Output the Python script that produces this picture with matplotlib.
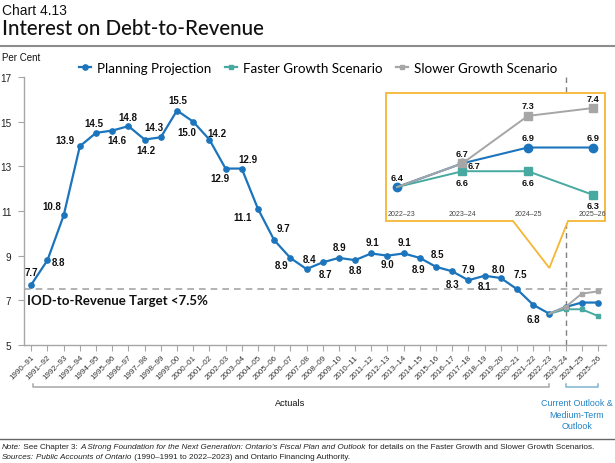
import matplotlib
matplotlib.use("Agg")
from matplotlib import pyplot as plt
from matplotlib.patches import Polygon
from matplotlib.lines import Line2D
from matplotlib.transforms import blended_transform_factory
import numpy as np

# ---- data ----
years = ['1990–91', '1991–92', '1992–93', '1993–94', '1994–95', '1995–96',
         '1996–97', '1997–98', '1998–99', '1999–00', '2000–01', '2001–02',
         '2002–03', '2003–04', '2004–05', '2005–06', '2006–07', '2007–08',
         '2008–09', '2009–10', '2010–11', '2011–12', '2012–13', '2013–14',
         '2014–15', '2015–16', '2016–17', '2017–18', '2018–19', '2019–20',
         '2020–21', '2021–22', '2022–23', '2023–24', '2024–25', '2025–26']
planning = [7.7, 8.8, 10.8, 13.9, 14.5, 14.6, 14.8, 14.2, 14.3, 15.5, 15.0, 14.2,
            12.9, 12.9, 11.1, 9.7, 8.9, 8.4, 8.7, 8.9, 8.8, 9.1, 9.0, 9.1,
            8.9, 8.5, 8.3, 7.9, 8.1, 8.0, 7.5, 6.8, 6.4, 6.7, 6.9, 6.9]
proj_years = ['2022–23', '2023–24', '2024–25', '2025–26']
faster = [6.4, 6.6, 6.6, 6.3]
slower = [6.4, 6.7, 7.3, 7.4]
target = 7.5

# label offsets (pixels) for the planning labels in the main chart
label_off = [(0, 13), (11, -2), (-12, 9), (-15, 6), (-2, 10), (5, -9), (-1, 9),
             (1, -10), (-7, 10), (1, 10), (-6, -10), (8, 7), (-6, -9), (6, 10),
             (-15, -8), (9, 12), (-9, -7), (3, 10), (3, -12), (1, 11), (0, -10),
             (1, 11), (0, -8), (1, 11), (-1, -11), (1, 13), (0, -13), (0, 11),
             (0, -10), (-2, 9), (3, 15), (0, -14)]

BLUE = '#1C75BC'
TEAL = '#48A9A0'
GREY = '#A6A6A6'
GOLD = '#F5B634'
SANS = ['Liberation Sans', 'DejaVu Sans']
HEAD = ['Lato', 'DejaVu Sans']

W, H = 615, 464
fig = plt.figure(figsize=(W / 100, H / 100), dpi=100)


def box(l, t, r, b):
    return [l / W, 1 - b / H, (r - l) / W, (b - t) / H]


# ---- main axes ----
ax = fig.add_axes(box(24, 78, 606, 346))
ax.set_zorder(0)
x = np.arange(len(years))
px = np.arange(len(years) - 4, len(years))

ax.axhline(target, color=GREY, lw=1.2, ls=(0, (4, 3)), zorder=1)
ax.axvline(px[1], color='#808080', lw=1.0, ls=(0, (4, 3)), zorder=1)
ax.plot(x, planning, color=BLUE, lw=1.6, marker='o', ms=3.8, zorder=3)
ax.plot(px, faster, color=TEAL, lw=1.4, marker='s', ms=3.5, markevery=[1, 2, 3], zorder=4)
ax.plot(px, slower, color=GREY, lw=1.4, marker='s', ms=3.5, markevery=[1, 2, 3], zorder=5)

for i, (dx, dy) in enumerate(label_off):
    ax.annotate(f'{planning[i]:.1f}', (x[i], planning[i]), xytext=(dx, dy),
                textcoords='offset pixels', ha='center', va='center',
                fontsize=7, fontweight='bold', family=SANS, color='#111111')

ax.text(0.005, 7.0, 'IOD-to-Revenue Target <7.5%',
        transform=blended_transform_factory(ax.transAxes, ax.transData),
        fontsize=9.5, fontweight='bold', family=HEAD, va='center', ha='left', color='#111111')

ax.set_xlim(-0.45, 35.5)
ax.set_ylim(5, 17)
ax.set_yticks(range(5, 18, 2))
ax.set_xticks(x)
ax.set_xticklabels(years, rotation=45, ha='right', rotation_mode='anchor',
                   fontsize=5.8, family=SANS, color='#333333')
ax.tick_params(axis='x', length=4, color=GREY, pad=2)
ax.tick_params(axis='y', length=4, color=GREY, labelsize=7.2, labelcolor='#222222', pad=5)
for lbl in ax.get_yticklabels():
    lbl.set_family(SANS)
for s in ['top', 'right']:
    ax.spines[s].set_visible(False)
for s in ['left', 'bottom']:
    ax.spines[s].set_color(GREY)
    ax.spines[s].set_linewidth(1.0)

# brackets under the axis
bt = blended_transform_factory(ax.transData, ax.transAxes)
ax.plot([0.1, 0.1, 32, 32], [-0.146, -0.157, -0.157, -0.146], color=GREY, lw=1.1,
        transform=bt, clip_on=False)
ax.plot([33, 33, 35, 35], [-0.146, -0.157, -0.157, -0.146], color='#7FB3CF', lw=1.1,
        transform=bt, clip_on=False)
ax.text(16, -0.213, 'Actuals', transform=bt, ha='center', va='center',
        fontsize=6.6, family=SANS, color='#111111')
ax.text(33.7, -0.258, 'Current Outlook &\nMedium-Term\nOutlook', transform=bt,
        ha='center', va='center', fontsize=6.4, family=SANS, color='#2383C4',
        linespacing=1.35)

# ---- inset with callout ----
il, it, ir, ib = 386, 94, 605, 222
fig.canvas.draw()
apex = ax.transData.transform((px[0], 8.45))
pts_px = [(il, it), (ir, it), (ir, ib), (568, ib), (apex[0], H - apex[1]),
          (513, ib), (il, ib)]
poly = Polygon([(p / W, 1 - q / H) for p, q in pts_px], closed=True,
               transform=fig.transFigure, facecolor='white', edgecolor=GOLD,
               lw=1.3, zorder=1)
fig.add_artist(poly)

ins = fig.add_axes(box(il, it, ir, ib))
ins.set_zorder(2)
ins.patch.set_alpha(0)
ix = np.arange(4)
ins.plot(ix, planning[-4:], color=BLUE, lw=1.5, marker='o', ms=6, zorder=3)
ins.plot(ix, faster, color=TEAL, lw=1.4, marker='s', ms=5.5, markevery=[1, 2, 3], zorder=4)
ins.plot(ix, slower, color=GREY, lw=1.4, marker='s', ms=5.5, markevery=[1, 2, 3], zorder=5)
ins.set_xlim(-0.17, 3.18)
ins.set_ylim(5.97, 7.59)
ins.axis('off')

inset_labels = [
    (0, planning[-4], 0, 10), (1, slower[1], 0, 10), (1, planning[-3], 12, -2),
    (1, faster[1], 0, -11), (2, slower[2], 0, 10), (2, planning[-2], 0, 10),
    (2, faster[2], 0, -11), (3, slower[3], 0, 10), (3, planning[-1], 0, 10),
    (3, faster[3], 0, -11),
]
for i, v, dx, dy in inset_labels:
    ins.annotate(f'{v:.1f}', (ix[i], v), xytext=(dx, dy), textcoords='offset pixels',
                 ha='center', va='center', fontsize=6.6, fontweight='bold',
                 family=SANS, color='#111111')
for i, yl in enumerate(proj_years):
    xo = ix[i]
    if i == 0:
        xo = ix[i] + 0.07
    if i == 3:
        xo = ix[i] - 0.02
    ins.text(xo, 0.035, yl, transform=blended_transform_factory(ins.transData, ins.transAxes),
             ha='center', va='bottom', fontsize=5, family=SANS, color='#444444')

# ---- titles and legend ----
fig.text(2 / W, 1 - 11 / H, 'Chart 4.13', fontsize=10, family=SANS, va='center', color='#111111')
fig.text(2 / W, 1 - 29 / H, 'Interest on Debt-to-Revenue', fontsize=14.8, family=HEAD,
         fontweight='medium', va='center', color='#111111')
fig.add_artist(Line2D([0, 1], [1 - 47 / H, 1 - 47 / H], color='#8C8C8C', lw=1.5,
                      transform=fig.transFigure))
fig.text(2 / W, 1 - 58 / H, 'Per Cent', fontsize=7, family=SANS, va='center', color='#111111')

handles = [Line2D([], [], color=BLUE, lw=1.6, marker='o', ms=3.8),
           Line2D([], [], color=TEAL, lw=1.6, marker='s', ms=3.5),
           Line2D([], [], color=GREY, lw=1.6, marker='s', ms=3.5)]
fig.legend(handles, ['Planning Projection', 'Faster Growth Scenario', 'Slower Growth Scenario'],
           loc='center', bbox_to_anchor=(318 / W, 1 - 69 / H), ncol=3, frameon=False,
           prop={'family': HEAD, 'size': 9.6}, handlelength=0.9, handletextpad=0.45,
           columnspacing=1.0)

# ---- footnotes ----
fig.add_artist(Line2D([0, 1], [1 - 440 / H, 1 - 440 / H], color='#666666', lw=1.0,
                      transform=fig.transFigure))


def rich_line(y, parts, size):
    xx = 2
    r = fig.canvas.get_renderer()
    for s, it_ in parts:
        t = fig.text(xx / W, 1 - y / H, s, fontsize=size, family=SANS,
                     style='italic' if it_ else 'normal', va='center', color='#222222')
        xx += t.get_window_extent(r).width


rich_line(448, [('Note:', True), (' See Chapter 3: ', False),
                ('A Strong Foundation for the Next Generation: Ontario\u2019s Fiscal Plan and Outlook', True),
                (' for details on the Faster Growth and Slower Growth Scenarios.', False)], 5.9)
rich_line(458, [('Sources:', True), (' ', False), ('Public Accounts of Ontario', True),
                (' (1990–1991 to 2022–2023) and Ontario Financing Authority.', False)], 5.9)

fig.savefig('out.png', dpi=100)
